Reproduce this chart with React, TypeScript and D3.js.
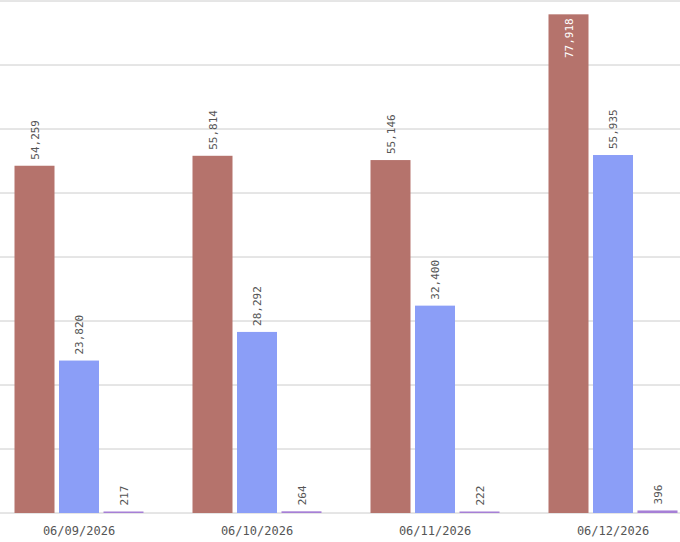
import React from "react";
import * as d3 from "d3";

const categories = ["06/09/2026", "06/10/2026", "06/11/2026", "06/12/2026"];
const seriesA = [54259, 55814, 55146, 77918];
const seriesB = [23820, 28292, 32400, 55935];
const seriesC = [217, 264, 222, 396];
const colors = ["#b5736c", "#8b9ef7", "#a67fd6"];
const ticks = [0, 10000, 20000, 30000, 40000, 50000, 60000, 70000, 80000];

export default function App() {
  const W = 680, H = 542;
  const x = d3.scaleBand().domain(categories).range([-10, 702]).padding(0);
  const y = d3.scaleLinear().domain([0, 80000]).range([513, 1]);
  const series = [seriesA, seriesB, seriesC];
  const bw = 40, gap = 4.5;
  const fmt = d3.format(",");
  return (
    <svg width={W} height={H} style={{ position: "absolute", left: 0, top: 0 }}
      fontFamily="DejaVu Sans Mono" fontSize={11}>
      {ticks.map(t => (
        <line key={t} x1={0} x2={W} y1={y(t)} y2={y(t)} stroke="#cccccc" strokeWidth={1} />
      ))}
      {categories.map((c, i) => {
        const cx = x(c)! + x.bandwidth() / 2;
        return (
          <g key={c}>
            {series.map((s, k) => {
              const bx = cx - bw / 2 + (k - 1) * (bw + gap);
              const v = s[i];
              const top = y(v);
              const h = Math.max(y(0) - top, 1.5);
              const lx = bx + bw / 2 + 4;
              const inside = top < 60;
              return (
                <g key={k}>
                  <rect x={bx} y={y(0) - h} width={bw} height={h} fill={colors[k]} />
                  <text transform={`translate(${lx},${inside ? top + 4 : top - 6}) rotate(-90)`}
                    fill={inside ? "#fff" : "#555"} textAnchor={inside ? "end" : "start"} fontSize={11}>
                    {fmt(v)}
                  </text>
                </g>
              );
            })}
            <text x={cx} y={535} textAnchor="middle" fill="#555" fontSize={12}>{c}</text>
          </g>
        );
      })}
    </svg>
  );
}
